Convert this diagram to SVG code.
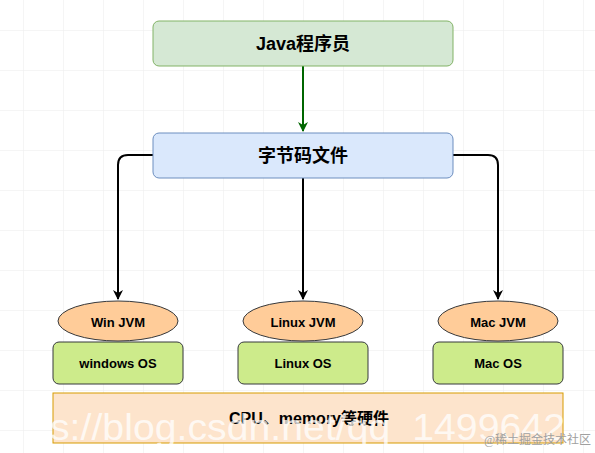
<svg xmlns="http://www.w3.org/2000/svg" width="595" height="453" viewBox="0 0 595 453">
<style>
.lbl{font-family:"Liberation Sans","Noto Sans CJK SC",Arial,sans-serif;font-weight:bold;text-anchor:middle;dominant-baseline:central;fill:#000}
.s{font-size:13px}
.b{font-size:18px}
.os{fill:#cdeb8b;stroke:#36393d;stroke-width:1}
.jvm{fill:#ffcc99;stroke:#36393d;stroke-width:1}
.edge{fill:none;stroke:#000;stroke-width:2}
</style>
<defs>
<pattern id="grid" width="40" height="40" patternUnits="userSpaceOnUse" x="23" y="30">
<path d="M40 0H0V40" fill="none" stroke="#ececec" stroke-width="1"/>
</pattern>
<marker id="ab" viewBox="0 0 10 10" refX="9" refY="5" markerWidth="5" markerHeight="5" orient="auto" markerUnits="strokeWidth">
<path d="M0 0L10 5L0 10L3 5Z" fill="#000"/>
</marker>
<marker id="ag" viewBox="0 0 10 10" refX="9" refY="5" markerWidth="5" markerHeight="5" orient="auto" markerUnits="strokeWidth">
<path d="M0 0L10 5L0 10L3 5Z" fill="#006600"/>
</marker>
</defs>
<rect width="595" height="453" fill="#fff"/>
<rect width="595" height="453" fill="url(#grid)"/>
<g id="connectors">
<path d="M303 66V131" fill="none" stroke="#006600" stroke-width="2" marker-end="url(#ag)"/>
<path class="edge" d="M153 155H128Q118 155 118 165V299" marker-end="url(#ab)"/>
<path class="edge" d="M303 178V299" marker-end="url(#ab)"/>
<path class="edge" d="M453 155H488Q498 155 498 165V299" marker-end="url(#ab)"/>
</g>
<g id="java">
<rect x="153" y="21" width="300" height="45" rx="6" fill="#d5e8d4" stroke="#82b366"/>
<text class="lbl b" x="303" y="44">Java程序员</text>
</g>
<g id="bytecode">
<rect x="153" y="133" width="300" height="45" rx="6" fill="#dae8fc" stroke="#6c8ebf"/>
<text class="lbl b" x="303" y="156">字节码文件</text>
</g>
<g id="winjvm">
<ellipse class="jvm" cx="118" cy="321" rx="60" ry="20"/>
<text class="lbl s" x="118" y="322">Win JVM</text>
</g>
<g id="linuxjvm">
<ellipse class="jvm" cx="303" cy="321" rx="60" ry="20"/>
<text class="lbl s" x="303" y="322">Linux JVM</text>
</g>
<g id="macjvm">
<ellipse class="jvm" cx="498" cy="321" rx="60" ry="20"/>
<text class="lbl s" x="498" y="322">Mac JVM</text>
</g>
<g id="winos">
<rect class="os" x="53" y="342" width="130" height="42" rx="6"/>
<text class="lbl s" x="118" y="363">windows OS</text>
</g>
<g id="linuxos">
<rect class="os" x="238" y="342" width="130" height="42" rx="6"/>
<text class="lbl s" x="303" y="363">Linux OS</text>
</g>
<g id="macos">
<rect class="os" x="433" y="342" width="130" height="42" rx="6"/>
<text class="lbl s" x="498" y="363">Mac OS</text>
</g>
<g id="hardware">
<rect x="53" y="393" width="510" height="50" fill="#fde4cc" stroke="#d79b00"/>
<text class="lbl" font-size="16" x="309" y="418">CPU、memory等硬件</text>
</g>
<text x="50" y="440" font-family="Liberation Sans,Arial,sans-serif" font-size="36" fill="#fff" fill-opacity="0.75" textLength="515" lengthAdjust="spacingAndGlyphs">s://blog.csdn.net/qq_1499642</text>
<text x="591" y="444" font-family="Liberation Serif,Noto Sans CJK SC,serif" font-size="12" fill="#a0a0a0" text-anchor="end">@稀土掘金技术社区</text>
</svg>
